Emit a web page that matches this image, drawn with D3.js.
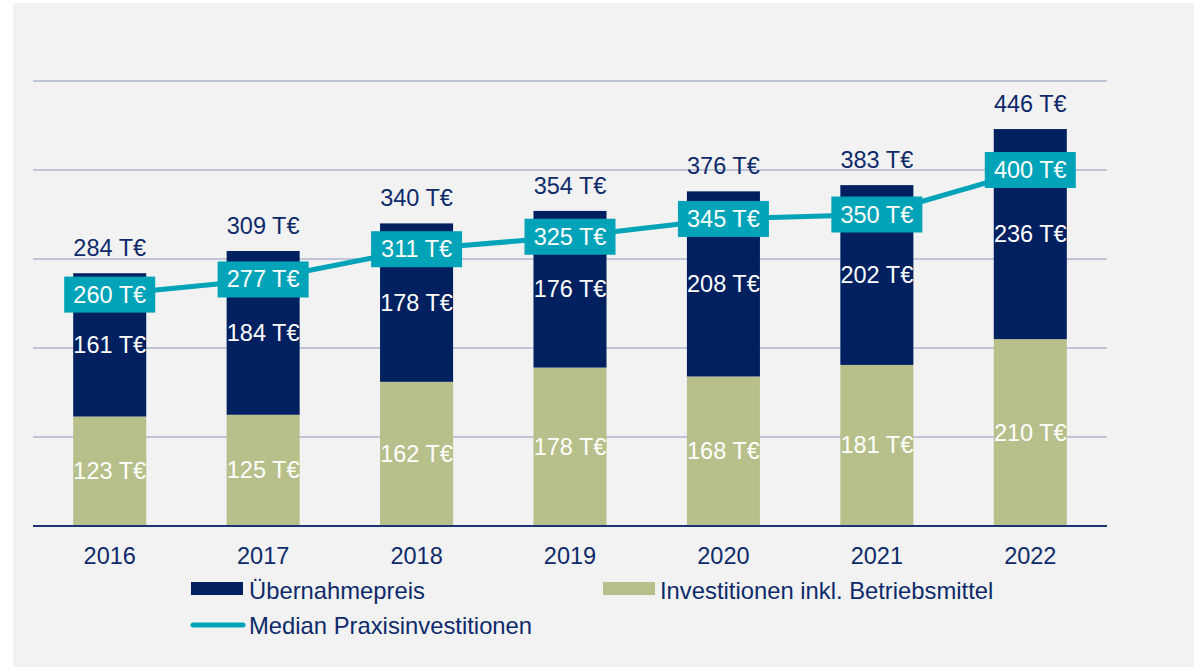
<!DOCTYPE html>
<html lang="de">
<head>
  <meta charset="UTF-8">
  <title>Übernahmepreis und Investitionen 2016-2022</title>
  <script src="https://d3js.org/d3.v7.min.js"></script>
  <style>
    body { margin: 0; background: #fff; font-family: "Liberation Sans", Arial, sans-serif; }
    svg text { font-family: "Liberation Sans", Arial, sans-serif; }
  </style>
</head>
<body>
  <svg width="1194" height="667"></svg>
  <script>
    // data (T€)
    const years = ["2016", "2017", "2018", "2019", "2020", "2021", "2022"];
    const investitionen = [123, 125, 162, 178, 168, 181, 210];
    const uebernahme = [161, 184, 178, 176, 208, 202, 236];
    const totals = [284, 309, 340, 354, 376, 383, 446];
    const median = [260, 277, 311, 325, 345, 350, 400];
    const yTicks = [0, 100, 200, 300, 400, 500];

    const navy = "#002060", green = "#b7bf8a", teal = "#00a3b7", textNavy = "#0d2a6b";

    const svg = d3.select("svg");
    svg.append("rect").attr("x", 13).attr("y", 3).attr("width", 1181).attr("height", 664).attr("fill", "#f2f2f2");

    const x = d3.scaleBand().domain(years).range([33, 1107]).paddingInner(0.524).paddingOuter(0.262);
    const y = d3.scaleLinear().domain([0, 500]).range([526, 81]);

    // gridlines
    svg.append("g").selectAll("line").data(yTicks.slice(1)).join("line")
      .attr("x1", 33).attr("x2", 1107)
      .attr("y1", d => y(d)).attr("y2", d => y(d))
      .attr("stroke", "#8a98c0").attr("stroke-width", 1.2);

    // stacked bars
    const g = svg.append("g");
    g.selectAll(".inv").data(years).join("rect")
      .attr("x", d => x(d)).attr("width", x.bandwidth())
      .attr("y", (d, i) => y(investitionen[i]))
      .attr("height", (d, i) => y(0) - y(investitionen[i]))
      .attr("fill", green);
    g.selectAll(".ueb").data(years).join("rect")
      .attr("x", d => x(d)).attr("width", x.bandwidth())
      .attr("y", (d, i) => y(investitionen[i] + uebernahme[i]))
      .attr("height", (d, i) => y(investitionen[i]) - y(investitionen[i] + uebernahme[i]))
      .attr("fill", navy);

    // x axis line
    svg.append("line").attr("x1", 33).attr("x2", 1107).attr("y1", y(0)).attr("y2", y(0))
      .attr("stroke", "#1f3272").attr("stroke-width", 2);

    const fs = 23.5;
    const cx = d => x(d) + x.bandwidth() / 2;

    // segment labels
    g.selectAll(".invl").data(years).join("text")
      .attr("x", cx).attr("y", (d, i) => y(investitionen[i] / 2))
      .attr("text-anchor", "middle").attr("dominant-baseline", "central")
      .attr("fill", "#fff").attr("font-size", fs)
      .text((d, i) => investitionen[i] + " T€");
    g.selectAll(".uebl").data(years).join("text")
      .attr("x", cx).attr("y", (d, i) => y(investitionen[i] + uebernahme[i] / 2))
      .attr("text-anchor", "middle").attr("dominant-baseline", "central")
      .attr("fill", "#fff").attr("font-size", fs)
      .text((d, i) => uebernahme[i] + " T€");
    g.selectAll(".tot").data(years).join("text")
      .attr("x", cx).attr("y", (d, i) => y(totals[i]) - 25)
      .attr("text-anchor", "middle").attr("dominant-baseline", "central")
      .attr("fill", textNavy).attr("font-size", fs)
      .text((d, i) => totals[i] + " T€");

    // median line
    const line = d3.line().x((d, i) => cx(years[i])).y(d => y(d));
    svg.append("path").datum(median).attr("d", line)
      .attr("fill", "none").attr("stroke", teal).attr("stroke-width", 5);

    const lab = svg.append("g").selectAll("g").data(median).join("g")
      .attr("transform", (d, i) => `translate(${cx(years[i])},${y(d)})`);
    lab.append("rect").attr("x", -45.5).attr("y", -18).attr("width", 91).attr("height", 36).attr("fill", teal);
    lab.append("text").attr("text-anchor", "middle").attr("dominant-baseline", "central")
      .attr("fill", "#fff").attr("font-size", fs).text(d => d + " T€");

    // year labels
    svg.append("g").selectAll("text").data(years).join("text")
      .attr("x", cx).attr("y", 556)
      .attr("text-anchor", "middle").attr("dominant-baseline", "central")
      .attr("fill", textNavy).attr("font-size", fs).text(d => d);

    // legend
    const leg = svg.append("g").attr("font-size", 23.8).attr("fill", textNavy);
    leg.append("rect").attr("x", 191).attr("y", 582).attr("width", 52).attr("height", 13).attr("fill", navy);
    leg.append("text").attr("x", 249).attr("y", 590).attr("dominant-baseline", "central").text("Übernahmepreis");
    leg.append("rect").attr("x", 603).attr("y", 582).attr("width", 52).attr("height", 13).attr("fill", green);
    leg.append("text").attr("x", 660).attr("y", 590).attr("dominant-baseline", "central").text("Investitionen inkl. Betriebsmittel");
    leg.append("line").attr("x1", 193).attr("x2", 243).attr("y1", 625).attr("y2", 625)
      .attr("stroke", teal).attr("stroke-width", 5).attr("stroke-linecap", "round");
    leg.append("text").attr("x", 249).attr("y", 625).attr("dominant-baseline", "central").text("Median Praxisinvestitionen");
  </script>
</body>
</html>
